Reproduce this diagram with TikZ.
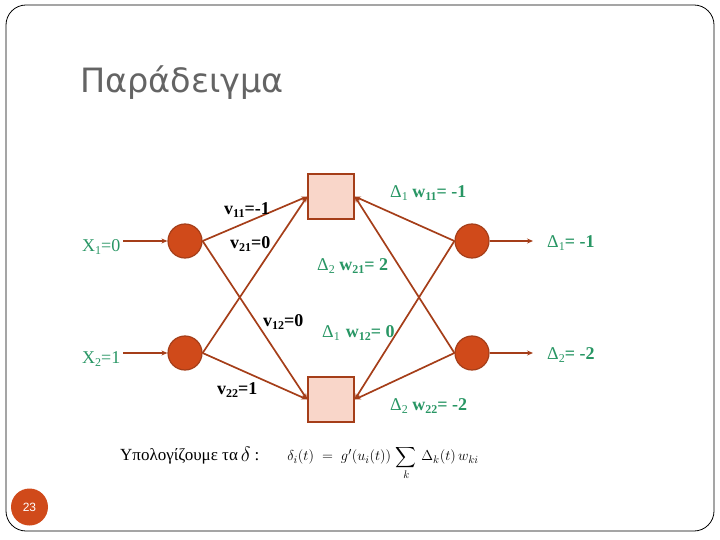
\documentclass[tikz,border=0pt]{standalone}
\usepackage{exscale}
\usepackage{fontspec}
\setmainfont{Liberation Serif}
\newfontfamily\titlefont{DejaVu Sans}
\newfontfamily\pgfont{Liberation Sans}
\usetikzlibrary{arrows.meta}
\definecolor{lnk}{RGB}{165,62,25}
\definecolor{nodefill}{RGB}{208,74,26}
\definecolor{boxfill}{RGB}{249,214,201}
\definecolor{grn}{RGB}{40,150,100}
\definecolor{ttl}{RGB}{100,100,100}
\newcommand\lsub[1]{\raisebox{-0.45ex}{\fontsize{12}{12}\selectfont #1}}
\begin{document}
\begin{tikzpicture}[x=1pt,y=-1pt,
 neuron/.style={circle,fill=nodefill,draw=lnk,line width=1.2pt,minimum size=34pt,inner sep=0},
 hidden/.style={rectangle,fill=boxfill,draw=lnk,line width=1.6pt,minimum width=46pt,minimum height=45pt,inner sep=0},
 conn/.style={draw=lnk,line width=1.7pt,-{Stealth[length=6pt,width=5pt]}},
 glab/.style={text=grn,font=\fontsize{18}{18}\selectfont,inner sep=0,anchor=west},
 blab/.style={text=black,font=\fontsize{18}{18}\selectfont\bfseries,inner sep=0,anchor=west}]
\useasboundingbox (0,0) rectangle (720,540);
\draw[rounded corners=20pt, line width=0.8pt] (6,5) rectangle (714,531);
\node[anchor=west,text=ttl,font=\titlefont\fontsize{33.5}{33.5}\selectfont,inner sep=0] (title) at (80,83) {Παράδειγμα};

\node[neuron] (i1) at (185,241) {};
\node[neuron] (i2) at (185,353) {};
\node[neuron] (o1) at (472,241) {};
\node[neuron] (o2) at (472,353) {};
\node[hidden] (h1) at (331,196.5) {};
\node[hidden] (h2) at (331,399.5) {};

\coordinate (x1) at (123,241);
\coordinate (x2) at (123,353);
\coordinate (d1) at (533,241);
\coordinate (d2) at (533,353);

\draw[conn] (x1) -- (i1);
\draw[conn] (x2) -- (i2);
\draw[conn] (i1.east) -- (h1.west);
\draw[conn] (i1.east) -- (h2.west);
\draw[conn] (i2.east) -- (h1.west);
\draw[conn] (i2.east) -- (h2.west);
\draw[conn] (o1.west) -- (h1.east);
\draw[conn] (o2.west) -- (h1.east);
\draw[conn] (o1.west) -- (h2.east);
\draw[conn] (o2.west) -- (h2.east);
\draw[conn] (o1.east) -- (d1);
\draw[conn] (o2.east) -- (d2);

\node[glab] (lx1) at (82,247) {X\lsub{1}=0};
\node[glab] (lx2) at (82,359) {X\lsub{2}=1};
\node[blab] (lv11) at (224,210) {v\lsub{11}=-1};
\node[blab] (lv21) at (230,244) {v\lsub{21}=0};
\node[blab] (lv12) at (263,322) {v\lsub{12}=0};
\node[blab] (lv22) at (217,390) {v\lsub{22}=1};
\node[glab] (lw11) at (390,193) {Δ\lsub{1} \textbf{w\lsub{11}= -1}};
\node[glab] (lw21) at (317,266) {Δ\lsub{2} \textbf{w\lsub{21}= 2}};
\node[glab] (lw12) at (322,333) {Δ\lsub{1}\hspace{6pt}\textbf{w\lsub{12}= 0}};
\node[glab] (lw22) at (390,406) {Δ\lsub{2} \textbf{w\lsub{22}= -2}};
\node[glab] (ld1) at (547,243) {Δ\lsub{1}\textbf{= -1}};
\node[glab] (ld2) at (547,355) {Δ\lsub{2}\textbf{= -2}};

\node[anchor=west,inner sep=0,font=\fontsize{17}{17}\selectfont] (form) at (120,463)
 {Υπολογίζουμε τα\hspace{3pt}\raisebox{-0.1ex}{\fontsize{21}{21}\selectfont$\delta$}\hspace{4pt}:\hspace{28pt}{\fontsize{15.5}{15.5}\selectfont$\delta_i(t)\;=\;g'(u_i(t))\,\displaystyle\sum_k\,\Delta_k(t)\,w_{ki}$}};

\node[circle,fill=nodefill,minimum size=37pt,inner sep=0,text=white,font=\pgfont\fontsize{12}{12}\selectfont] (pg) at (29.5,507) {23};
\end{tikzpicture}
\end{document}
